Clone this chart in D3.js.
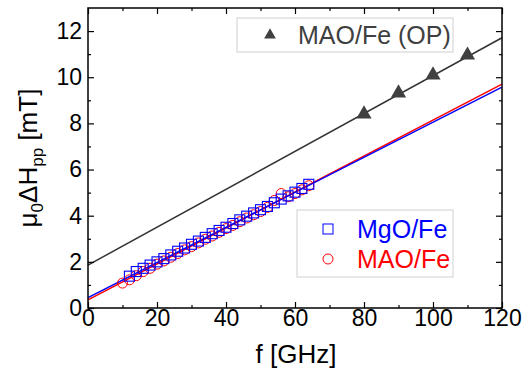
<!DOCTYPE html>
<html>
<head>
<meta charset="utf-8">
<script src="https://cdn.jsdelivr.net/npm/d3@7"></script>
<style>
body { margin: 0; background: #fff; }
text { font-family: "Liberation Sans", Arial, sans-serif; }
</style>
</head>
<body>
<svg></svg>
<script>
// MgO/Fe (squares)
let mgoF = [12,14,16,18,20,22,24,26,28,30,32,34,36,38,40,42,44,46,48,50,52,54,56,58,60,62,64]
let mgoH = [1.38,1.58,1.72,1.86,2.00,2.14,2.30,2.46,2.60,2.76,2.90,3.06,3.22,3.36,3.50,3.66,3.82,3.98,4.12,4.26,4.40,4.56,4.72,4.86,5.02,5.18,5.36]
// MAO/Fe (circles)
let maoF = [10,12,14,16,18,20,22,24,26,28,30,32,34,36,38,40,42,44,46,48,50,52,54,56,58,60,62,64]
let maoH = [1.08,1.22,1.40,1.58,1.72,1.90,2.04,2.20,2.36,2.52,2.66,2.82,2.98,3.12,3.28,3.44,3.58,3.74,3.90,4.04,4.18,4.36,4.66,4.96,4.82,4.96,5.12,5.30]
// MAO/Fe (OP) triangles
let opF = [80,90,100,110]
let opH = [8.45,9.36,10.14,11.0]
// linear fits, end points at f = 0 and f = 120
let fitF = [0,120]
let fitOP = [1.86,11.71]
let fitMgO = [0.45,9.57]
let fitMAO = [0.35,9.70]

let xTicks = [0,20,40,60,80,100,120]
let yTicks = [0,2,4,6,8,10,12]

const width = 524
const height = 375
const margin = {left: 88, right: 22, top: 8, bottom: 67}

const svg = d3.select('svg').attr('width', width).attr('height', height)

let xScale = d3.scaleLinear().domain([0,120]).range([margin.left, width - margin.right])
let yScale = d3.scaleLinear().domain([0,13]).range([height - margin.bottom, margin.top])

let zip = (a, b) => a.map((v, i) => [v, b[i]])

// fit lines
let line = d3.line().x(d => xScale(d[0])).y(d => yScale(d[1]))
let fits = [[fitOP, '#333333'], [fitMAO, '#ff0000'], [fitMgO, '#0000ff']]
fits.forEach(f => {
    svg.append('path')
        .attr('d', line(zip(fitF, f[0])))
        .attr('fill', 'none')
        .attr('stroke', f[1])
        .attr('stroke-width', 1.5)
})

// circles
svg.append('g').selectAll('circle')
    .data(zip(maoF, maoH))
    .enter()
    .append('circle')
    .attr('cx', d => xScale(d[0]))
    .attr('cy', d => yScale(d[1]))
    .attr('r', 5)
    .attr('fill', 'none')
    .attr('stroke', '#ff0000')
    .attr('stroke-width', 1)

// squares
svg.append('g').selectAll('rect')
    .data(zip(mgoF, mgoH))
    .enter()
    .append('rect')
    .attr('x', d => xScale(d[0]) - 5)
    .attr('y', d => yScale(d[1]) - 5)
    .attr('width', 10)
    .attr('height', 10)
    .attr('fill', 'none')
    .attr('stroke', '#0000ff')
    .attr('stroke-width', 1.1)

// triangles
svg.append('g').selectAll('path')
    .data(zip(opF, opH))
    .enter()
    .append('path')
    .attr('d', d3.symbol(d3.symbolTriangle, 100))
    .attr('transform', d => 'translate(' + xScale(d[0]) + ',' + (yScale(d[1]) + 1) + ')')
    .attr('fill', '#404040')

// axes
let x0 = height - margin.bottom
let y0 = margin.left
let xMinor = d3.range(10, 120, 20)
let yMinor = d3.range(1, 13, 2)

let styleAxis = g => {
    g.select('.domain').remove()
    g.selectAll('line').attr('stroke', '#000').attr('stroke-width', 1.2)
    g.selectAll('text').attr('font-size', 23).attr('fill', '#000')
}

svg.append('g').attr('transform', 'translate(0,' + x0 + ')')
    .call(d3.axisBottom(xScale).tickValues(xTicks).tickSizeInner(-6).tickPadding(2).tickFormat(d3.format('d')))
    .call(styleAxis)
svg.append('g').attr('transform', 'translate(0,' + x0 + ')')
    .call(d3.axisBottom(xScale).tickValues(xMinor).tickSizeInner(-3).tickFormat(''))
    .call(styleAxis)
svg.append('g').attr('transform', 'translate(0,' + margin.top + ')')
    .call(d3.axisTop(xScale).tickValues(xTicks).tickSizeInner(-6).tickFormat(''))
    .call(styleAxis)
svg.append('g').attr('transform', 'translate(0,' + margin.top + ')')
    .call(d3.axisTop(xScale).tickValues(xMinor).tickSizeInner(-3).tickFormat(''))
    .call(styleAxis)

svg.append('g').attr('transform', 'translate(' + y0 + ',0)')
    .call(d3.axisLeft(yScale).tickValues(yTicks).tickSizeInner(-6).tickPadding(6).tickFormat(d3.format('d')))
    .call(styleAxis)
svg.append('g').attr('transform', 'translate(' + y0 + ',0)')
    .call(d3.axisLeft(yScale).tickValues(yMinor).tickSizeInner(-3).tickFormat(''))
    .call(styleAxis)
svg.append('g').attr('transform', 'translate(' + (width - margin.right) + ',0)')
    .call(d3.axisRight(yScale).tickValues(yTicks).tickSizeInner(-6).tickFormat(''))
    .call(styleAxis)
svg.append('g').attr('transform', 'translate(' + (width - margin.right) + ',0)')
    .call(d3.axisRight(yScale).tickValues(yMinor).tickSizeInner(-3).tickFormat(''))
    .call(styleAxis)

// frame
svg.append('rect')
    .attr('x', margin.left)
    .attr('y', margin.top)
    .attr('width', width - margin.left - margin.right)
    .attr('height', height - margin.top - margin.bottom)
    .attr('fill', 'none')
    .attr('stroke', '#000')
    .attr('stroke-width', 1.5)

// axis titles
svg.append('text')
    .attr('x', 296)
    .attr('y', 363)
    .attr('text-anchor', 'middle')
    .attr('font-size', 26)
    .text('f [GHz]')

let yTitle = svg.append('text')
    .attr('transform', 'translate(37,158) rotate(-90)')
    .attr('text-anchor', 'middle')
    .attr('font-size', 26)
yTitle.append('tspan').text('μ')
yTitle.append('tspan').attr('font-size', 17).attr('dy', 6).text('0')
yTitle.append('tspan').attr('dy', -6).text('ΔH')
yTitle.append('tspan').attr('font-size', 17).attr('dy', 6).text('pp')
yTitle.append('tspan').attr('dy', -6).text(' [mT]')

// legend 1
svg.append('rect')
    .attr('x', 237).attr('y', 18).attr('width', 216).attr('height', 34)
    .attr('fill', '#fff').attr('stroke', '#d0d0d0').attr('stroke-width', 1)
svg.append('path')
    .attr('d', d3.symbol(d3.symbolTriangle, 60))
    .attr('transform', 'translate(270,35)')
    .attr('fill', '#404040')
svg.append('text')
    .attr('x', 298).attr('y', 44)
    .attr('font-size', 25).attr('fill', '#404040')
    .text('MAO/Fe (OP)')

// legend 2
svg.append('rect')
    .attr('x', 297).attr('y', 210).attr('width', 156).attr('height', 67)
    .attr('fill', '#fff').attr('stroke', '#d0d0d0').attr('stroke-width', 1)
svg.append('rect')
    .attr('x', 323).attr('y', 224).attr('width', 10).attr('height', 10)
    .attr('fill', 'none').attr('stroke', '#0000ff')
svg.append('circle')
    .attr('cx', 328).attr('cy', 259).attr('r', 5)
    .attr('fill', 'none').attr('stroke', '#ff0000')
svg.append('text')
    .attr('x', 357).attr('y', 238)
    .attr('font-size', 25).attr('fill', '#0000ff')
    .text('MgO/Fe')
svg.append('text')
    .attr('x', 357).attr('y', 268)
    .attr('font-size', 25).attr('fill', '#ff0000')
    .text('MAO/Fe')
</script>
</body>
</html>
